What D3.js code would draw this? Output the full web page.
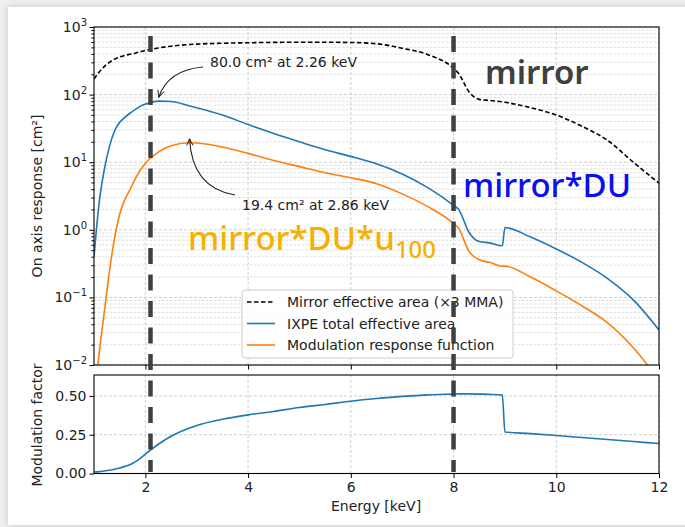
<!DOCTYPE html>
<html>
<head>
<meta charset="utf-8">
<script src="https://cdn.jsdelivr.net/npm/d3@7/dist/d3.min.js"></script>
<style>
  html, body { margin: 0; padding: 0; background: #ffffff; }
  svg { display: block; }
</style>
</head>
<body>
<svg id="chart" width="685" height="527"></svg>
<script>
// Energy grid shared by every curve [keV]
const energy = [1.0, 1.1, 1.2, 1.3, 1.4, 1.5, 1.6, 1.7, 1.8, 1.9, 2.0, 2.26, 2.5, 2.86, 3.0, 3.5,
  4.0, 4.5, 5.0, 5.5, 6.0, 6.5, 7.0, 7.5, 8.0, 8.1, 8.3, 8.5, 8.7, 8.95, 9.0, 9.5,
  10.0, 10.5, 11.0, 11.5, 12.0];

// Mirror effective area (x3 MMA) [cm^2]
const mirrorArea = [170, 215, 260, 300, 335, 360, 380, 395, 410, 430, 450, 490, 520, 550, 558, 575,
  585, 592, 595, 595, 590, 565, 485, 390, 245, 205, 110, 85, 82, 78, 77, 64,
  50, 34, 21, 10, 4.9];

// IXPE total effective area [cm^2]
const ixpeArea = [0.4, 2.5, 7.7, 17, 29, 39, 46, 53, 60, 67, 72, 80.0, 79, 68, 64, 50,
  36, 26.5, 20, 15.3, 12.2, 9.5, 6.7, 4.2, 2.3, 2.0, 0.92, 0.67, 0.64, 0.58, 1.08, 0.78,
  0.52, 0.33, 0.19, 0.092, 0.033];

// Modulation response function [cm^2]
const modResponse = [0.003, 0.015, 0.06, 0.24, 0.75, 1.7, 2.8, 3.9, 5.6, 7.6, 9.6, 14.2, 17.5, 19.4, 19.2, 16.8,
  13.5, 10.6, 8.6, 7.0, 5.9, 4.8, 3.4, 2.2, 1.24, 1.05, 0.48, 0.36, 0.33, 0.29, 0.29, 0.20,
  0.125, 0.075, 0.042, 0.018, 0.006];

// Modulation factor
const modFactor = [0.010, 0.012, 0.016, 0.021, 0.028, 0.036, 0.046, 0.057, 0.075, 0.098, 0.125, 0.19, 0.24, 0.293, 0.31, 0.35,
  0.378, 0.40, 0.425, 0.445, 0.466, 0.483, 0.497, 0.507, 0.512, 0.513, 0.513, 0.512, 0.510, 0.506, 0.268, 0.257,
  0.245, 0.232, 0.219, 0.206, 0.193];

const xTicks = [2, 4, 6, 8, 10, 12];
const topExponents = [-2, -1, 0, 1, 2, 3];
const bottomTicks = [0, 0.25, 0.5];
const guideEnergies = [2.1, 8.0];
const peakNotes = [
  { energy: 2.26, area: 80.0 },
  { energy: 2.86, area: 19.4 }
];
const legendLabels = ["Mirror effective area (\u00d73 MMA)", "IXPE total effective area", "Modulation response function"];

const svg = d3.select("#chart");
const W = 685, H = 527;
const tickFont = "DejaVu Sans, sans-serif";
const fs = 14;

// page backdrop with a card
const defs = svg.append("defs");
const sh = defs.append("filter").attr("id", "shadow").attr("x", "-5%").attr("y", "-5%").attr("width", "110%").attr("height", "110%");
sh.append("feDropShadow").attr("dx", 0).attr("dy", 0).attr("stdDeviation", 3).attr("flood-color", "#000").attr("flood-opacity", 0.18);
svg.append("rect").attr("width", W).attr("height", H).attr("fill", "#efefef");
svg.append("rect").attr("x", 8).attr("y", 7).attr("width", W).attr("height", 518)
  .attr("fill", "#ffffff").attr("filter", "url(#shadow)");

// panels
const left = 94, right = 659;
const x = d3.scaleLinear().domain([1, 12]).range([left, right]);
const yTop = d3.scaleLog().domain([1e-2, 1e3]).range([365, 27]);
const yBot = d3.scaleLinear().domain([0, 0.635]).range([473.5, 375]);

const clipTop = defs.append("clipPath").attr("id", "clipTop");
clipTop.append("rect").attr("x", left).attr("y", 27).attr("width", right - left).attr("height", 338);
const clipBot = defs.append("clipPath").attr("id", "clipBot");
clipBot.append("rect").attr("x", left).attr("y", 375).attr("width", right - left).attr("height", 98.5);

// ---------- grids ----------
const gridTop = svg.append("g");
const minorVals = [];
for (let e = -2; e < 3; e++) for (let m = 2; m <= 9; m++) minorVals.push(m * Math.pow(10, e));
gridTop.selectAll("line.minor").data(minorVals).join("line")
  .attr("x1", left).attr("x2", right)
  .attr("y1", d => yTop(d)).attr("y2", d => yTop(d))
  .attr("stroke", "#d6d6d6").attr("stroke-width", 0.8).attr("stroke-dasharray", "2.5,1.5");
gridTop.selectAll("line.major").data(topExponents.map(e => Math.pow(10, e))).join("line")
  .attr("x1", left).attr("x2", right)
  .attr("y1", d => yTop(d)).attr("y2", d => yTop(d))
  .attr("stroke", "#c4c4c4").attr("stroke-width", 0.8).attr("stroke-dasharray", "3,2");
gridTop.selectAll("line.vx").data(xTicks).join("line")
  .attr("x1", d => x(d)).attr("x2", d => x(d)).attr("y1", 27).attr("y2", 365)
  .attr("stroke", "#c4c4c4").attr("stroke-width", 0.8).attr("stroke-dasharray", "3,2");

const gridBot = svg.append("g");
gridBot.selectAll("line.h").data(bottomTicks).join("line")
  .attr("x1", left).attr("x2", right)
  .attr("y1", d => yBot(d)).attr("y2", d => yBot(d))
  .attr("stroke", "#c4c4c4").attr("stroke-width", 0.8).attr("stroke-dasharray", "3,2");
gridBot.selectAll("line.vx").data(xTicks).join("line")
  .attr("x1", d => x(d)).attr("x2", d => x(d)).attr("y1", 375).attr("y2", 473.5)
  .attr("stroke", "#c4c4c4").attr("stroke-width", 0.8).attr("stroke-dasharray", "3,2");

// ---------- curves ----------
const pts = vals => energy.map((e, i) => [e, vals[i]]);
const lineTop = d3.line().x(d => x(d[0])).y(d => yTop(d[1])).curve(d3.curveMonotoneX);
const lineBot = d3.line().x(d => x(d[0])).y(d => yBot(d[1])).curve(d3.curveMonotoneX);

const curves = svg.append("g").attr("clip-path", "url(#clipTop)");
curves.append("path").attr("d", lineTop(pts(mirrorArea)))
  .attr("fill", "none").attr("stroke", "#000").attr("stroke-width", 1.6).attr("stroke-dasharray", "4.5,2.5");
curves.append("path").attr("d", lineTop(pts(ixpeArea)))
  .attr("fill", "none").attr("stroke", "#1f77b4").attr("stroke-width", 1.6);
curves.append("path").attr("d", lineTop(pts(modResponse)))
  .attr("fill", "none").attr("stroke", "#ff7f0e").attr("stroke-width", 1.6);

svg.append("g").attr("clip-path", "url(#clipBot)")
  .append("path").attr("d", lineBot(pts(modFactor)))
  .attr("fill", "none").attr("stroke", "#1f77b4").attr("stroke-width", 1.6);

// ---------- axes ----------
function styleAxis(g) {
  g.select(".domain").remove();
  g.selectAll(".tick line").attr("stroke", "#000").attr("stroke-width", 1);
  g.selectAll(".tick text").attr("font-family", tickFont).attr("font-size", fs).attr("fill", "#222");
}
// top panel x ticks (no labels)
svg.append("g").attr("transform", "translate(0,365)")
  .call(d3.axisBottom(x).tickValues(xTicks).tickSize(4.5).tickFormat(""))
  .call(styleAxis);
// top panel y ticks
svg.append("g").attr("transform", `translate(${left},0)`)
  .call(d3.axisLeft(yTop).tickValues(minorVals).tickSize(2.6).tickFormat(""))
  .call(styleAxis);
svg.append("g").attr("transform", `translate(${left},0)`)
  .call(d3.axisLeft(yTop).tickValues(topExponents.map(e => Math.pow(10, e))).tickSize(4.5).tickFormat(""))
  .call(styleAxis);
const expLabels = svg.append("g").attr("font-family", tickFont).attr("fill", "#222");
topExponents.forEach(e => {
  const t = expLabels.append("text").attr("x", left - 7).attr("y", yTop(Math.pow(10, e)) + 5)
    .attr("text-anchor", "end").attr("font-size", fs);
  t.append("tspan").text("10");
  t.append("tspan").attr("font-size", 10).attr("dy", -6).text(e < 0 ? "\u2212" + Math.abs(e) : String(e));
});
// bottom panel
svg.append("g").attr("transform", "translate(0,473.5)")
  .call(d3.axisBottom(x).tickValues(xTicks).tickSize(4.5).tickPadding(4).tickFormat(d3.format("d")))
  .call(styleAxis);
svg.append("g").attr("transform", `translate(${left},0)`)
  .call(d3.axisLeft(yBot).tickValues(bottomTicks).tickSize(4.5).tickPadding(3).tickFormat(d3.format(".2f")))
  .call(styleAxis);

// frames
svg.append("rect").attr("x", left).attr("y", 27).attr("width", right - left).attr("height", 338)
  .attr("fill", "none").attr("stroke", "#000").attr("stroke-width", 1.1);
svg.append("rect").attr("x", left).attr("y", 375).attr("width", right - left).attr("height", 98.5)
  .attr("fill", "none").attr("stroke", "#000").attr("stroke-width", 1.1);

// axis titles
svg.append("text").attr("transform", "translate(42,196) rotate(-90)")
  .attr("text-anchor", "middle").attr("font-family", tickFont).attr("font-size", fs).attr("fill", "#222")
  .text("On axis response [cm\u00b2]");
svg.append("text").attr("transform", "translate(42,425) rotate(-90)")
  .attr("text-anchor", "middle").attr("font-family", tickFont).attr("font-size", fs).attr("fill", "#222")
  .text("Modulation factor");
svg.append("text").attr("x", 376).attr("y", 511)
  .attr("text-anchor", "middle").attr("font-family", tickFont).attr("font-size", fs).attr("fill", "#222")
  .text("Energy [keV]");

// ---------- peak annotations ----------
defs.append("marker").attr("id", "head").attr("viewBox", "0 0 10 10").attr("refX", 9.5).attr("refY", 5)
  .attr("markerWidth", 8).attr("markerHeight", 8).attr("orient", "auto").attr("markerUnits", "userSpaceOnUse")
  .append("path").attr("d", "M1,1 L9.5,5 L1,9").attr("fill", "none").attr("stroke", "#222").attr("stroke-width", 1.2);

const noteGeom = [
  { tx: 210, ty: 67, sx: 203, sy: 67, cx: 168, cy: 70, gap: 4 },
  { tx: 242, ty: 210, sx: 235, sy: 195, cx: 192, cy: 188, gap: 4 }
];
peakNotes.forEach((n, i) => {
  const g = noteGeom[i];
  const px = x(n.energy), py = yTop(n.area) - g.gap;
  svg.append("path").attr("d", `M${g.sx},${g.sy} Q${g.cx},${g.cy} ${px},${py}`)
    .attr("fill", "none").attr("stroke", "#222").attr("stroke-width", 1.1).attr("marker-end", "url(#head)");
  svg.append("text").attr("x", g.tx).attr("y", g.ty).attr("font-family", tickFont).attr("font-size", fs).attr("fill", "#222")
    .text(`${n.area.toFixed(1)} cm\u00b2 at ${n.energy.toFixed(2)} keV`);
});

// ---------- legend ----------
const lg = svg.append("g");
lg.append("rect").attr("x", 242).attr("y", 290).attr("width", 271).attr("height", 68).attr("rx", 3)
  .attr("fill", "#fff").attr("fill-opacity", 0.85).attr("stroke", "#cccccc").attr("stroke-width", 1);
const legStyles = [
  { color: "#000", dash: "4.5,2.5" },
  { color: "#1f77b4", dash: null },
  { color: "#ff7f0e", dash: null }
];
legendLabels.forEach((lab, i) => {
  const yy = 302 + i * 21.5;
  lg.append("line").attr("x1", 247).attr("x2", 275).attr("y1", yy).attr("y2", yy)
    .attr("stroke", legStyles[i].color).attr("stroke-width", 1.6)
    .attr("stroke-dasharray", legStyles[i].dash);
  lg.append("text").attr("x", 287).attr("y", yy + 5).attr("font-family", tickFont).attr("font-size", fs).attr("fill", "#222")
    .text(lab);
});

// ---------- big labels ----------
const bigFont = "'Noto Sans', 'Open Sans', sans-serif";
svg.append("text").attr("x", 485).attr("y", 84).attr("font-family", bigFont).attr("font-size", 33)
  .attr("font-weight", 600).attr("fill", "#404040").text("mirror");
svg.append("text").attr("x", 463).attr("y", 197).attr("font-family", bigFont).attr("font-size", 33)
  .attr("font-weight", 500).attr("fill", "#0a0ff0").text("mirror*DU");
const mdu = svg.append("text").attr("x", 188).attr("y", 250).attr("font-family", bigFont).attr("font-size", 33)
  .attr("font-weight", 500).attr("fill", "#f5b000");
mdu.append("tspan").text("mirror*DU*u");
mdu.append("tspan").attr("font-size", 24).attr("dy", 8).text("100");

// ---------- guide lines ----------
svg.append("g").selectAll("line").data(guideEnergies).join("line")
  .attr("x1", d => x(d)).attr("x2", d => x(d)).attr("y1", 36).attr("y2", 472)
  .attr("stroke", "#404040").attr("stroke-width", 4.5).attr("stroke-dasharray", "16,10.5");
</script>
</body>
</html>
